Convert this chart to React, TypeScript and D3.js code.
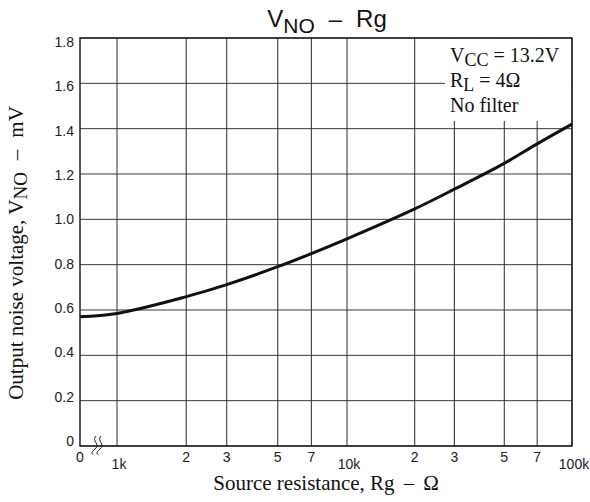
import React from 'react';
import * as d3 from 'd3';

// source resistance in kOhm (0 = origin left of the axis break)
const rgK = [0, 1, 2, 3, 5, 7, 10, 20, 30, 50, 70, 100];
const vno = [0.57, 0.585, 0.659, 0.712, 0.791, 0.849, 0.914, 1.046, 1.133, 1.247, 1.333, 1.42];

const xGrid = [1, 2, 3, 5, 7, 10, 20, 30, 50, 70, 100];
const xTickLabels = ['1k', '2', '3', '5', '7', '10k', '2', '3', '5', '7', '100k'];
const yTicks = [0, 0.2, 0.4, 0.6, 0.8, 1.0, 1.2, 1.4, 1.6, 1.8];

const W = 590;
const H = 502;
const left = 80;
const right = 572;
const top = 38;
const bottom = 446;

const sans = 'Liberation Sans, Arial, sans-serif';
const serif = 'Liberation Serif, Times New Roman, serif';

const App = () => {
  const xLog = d3.scaleLog().domain([1, 10, 100]).range([117, 347, right]);
  const x = (v: number) => (v === 0 ? left : xLog(v));
  const y = d3.scaleLinear().domain([0, 1.8]).range([bottom, top]);
  const yLab = d3.scaleLinear().domain([0, 1.8]).range([441, 42]);

  const line = d3
    .line<number>()
    .x((d, i) => x(rgK[i]))
    .y((d) => y(d))
    .curve(d3.curveCatmullRom.alpha(0.5));

  const major = (l: string) => l.endsWith('k');

  return (
    <svg width={W} height={H} style={{ position: 'absolute', left: 0, top: 0, background: '#fff' }}>
      {/* grid */}
      {yTicks.map((t) => (
        <line key={'h' + t} x1={left} x2={right} y1={y(t)} y2={y(t)} stroke="#3a3a3a" strokeWidth={1} />
      ))}
      {xGrid.map((t) => (
        <line key={'v' + t} x1={x(t)} x2={x(t)} y1={top} y2={bottom} stroke="#2a2a2a" strokeWidth={1} />
      ))}

      {/* condition box */}
      <rect x={445} y={top + 1} width={right - 445 - 1} height={82} fill="#fff" />
      <g fontFamily={serif} fontSize={20} fill="#111">
        <text x={450} y={62}>
          V<tspan dy={4} fontSize={18}>CC</tspan>
          <tspan dy={-4}> = 13.2V</tspan>
        </text>
        <text x={450} y={87}>
          R<tspan dy={4} fontSize={18}>L</tspan>
          <tspan dy={-4}> = 4Ω</tspan>
        </text>
        <text x={450} y={112}>No filter</text>
      </g>

      {/* frame */}
      <rect x={left} y={top} width={right - left} height={bottom - top} fill="none" stroke="#222" strokeWidth={1.5} />

      {/* curve */}
      <path d={line(vno) || ''} fill="none" stroke="#111" strokeWidth={3} />

      {/* axis break */}
      <g fill="none" stroke="#222" strokeWidth={1}>
        <path d="M96,436 C91,441 101,444 95,449 S94,454 93,455" />
        <path d="M101,436 C96,441 106,444 100,449 S99,454 98,455" />
      </g>

      {/* y tick labels */}
      <g fontFamily={sans} fontSize={14} fill="#222" textAnchor="end">
        {yTicks.map((t) => (
          <text key={'yl' + t} x={74} y={yLab(t)} dominantBaseline="central">
            {t === 0 ? '0' : t.toFixed(1)}
          </text>
        ))}
      </g>

      {/* x tick labels */}
      <g fontFamily={sans} fontSize={14} fill="#222" textAnchor="middle">
        <text x={left} y={462}>0</text>
        {xGrid.map((t, i) => (
          <text key={'xl' + i} x={x(t) + (major(xTickLabels[i]) ? 2 : 0)} y={major(xTickLabels[i]) ? 469 : 462}>
            {xTickLabels[i]}
          </text>
        ))}
      </g>

      {/* title */}
      <text x={327} y={27} fontFamily={sans} fontSize={24} fill="#111" textAnchor="middle">
        V<tspan dy={6} fontSize={21}>NO</tspan>
        <tspan dy={-6} dx={14}>–</tspan>
        <tspan dx={14}>Rg</tspan>
      </text>

      {/* axis titles */}
      <text x={326} y={490} fontFamily={serif} fontSize={21} fill="#111" textAnchor="middle">
        Source resistance, Rg<tspan dx={9}>–</tspan>
        <tspan dx={9}>Ω</tspan>
      </text>
      <text
        transform="translate(23,253) rotate(-90)"
        fontFamily={serif}
        fontSize={21}
        fill="#111"
        textAnchor="middle"
      >
        Output noise voltage, V<tspan dy={4} fontSize={19}>NO</tspan>
        <tspan dy={-4} dx={12}>–</tspan>
        <tspan dx={12}>mV</tspan>
      </text>
    </svg>
  );
};

export default App;
